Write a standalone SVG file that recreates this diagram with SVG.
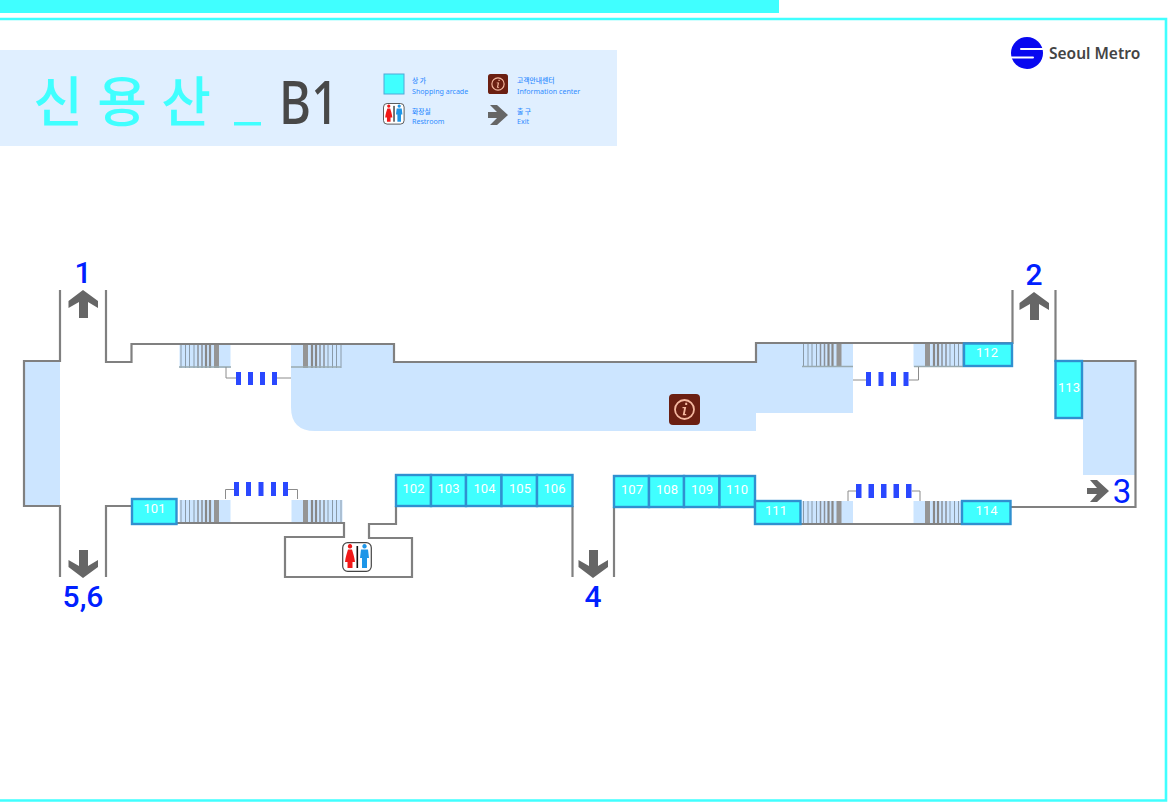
<svg xmlns="http://www.w3.org/2000/svg" width="1168" height="806" viewBox="0 0 1168 806">
<style>
.wall{fill:none;stroke:#808080;stroke-width:2.200}
.area{fill:#cce5ff}
.shop rect{fill:#40ffff;stroke:#3090d0;stroke-width:2.400}
.shop text{font:13px Roboto,"Liberation Sans",sans-serif;fill:#fff;text-anchor:middle}
.num{font:500 30px Roboto,"Liberation Sans",sans-serif;fill:#0020ff;text-anchor:middle}
.arrow{fill:#666}
.bar{fill:#2a48ff}
.link{fill:none;stroke:#8c8c8c;stroke-width:1}
.ttl{font:500 54px "Noto Sans CJK KR",sans-serif;fill:#40ffff;text-anchor:middle}
.leg{font:500 6.800px "Noto Sans CJK KR","Noto Sans",sans-serif;fill:#2f8cff}
.legen{font:7.100px "Noto Sans","Noto Sans CJK KR",sans-serif;fill:#2f8cff}
</style>
<defs>
<g id="stair">
<path d="M0 0H51V23H0z" fill="#cce5ff"/>
<path d="M1.500 0V23M6 0V23M10 0V23M14.500 0V23" stroke="#8a9aa8" stroke-width="1" fill="none"/>
<path d="M18.500 0V23M22.500 0V23" stroke="#8a9098" stroke-width="1.500" fill="none"/>
<path d="M26.500 0V23M30.500 0V23" stroke="#888" stroke-width="2.200" fill="none"/>
<rect x="34.500" y="0" width="5" height="23" fill="#959595"/>
</g>
<path id="up" d="M0 0L15 11V18L5 12V28H-4V12L-14.500 18V11Z"/>
<g id="wc">
<rect x="0.700" y="0.700" width="28.600" height="28.600" rx="5" fill="#fff" stroke="#444" stroke-width="1.200"/>
<path d="M8 6.500a2.200 2.200 0 1 1 .01 0ZM6 7.500H10C11 11 12.500 15 13 20H10.500V26H5.500V20H3C3.500 15 5 11 6 7.500Z" fill="#f01818"/>
<rect x="14.500" y="4" width="1.600" height="22" fill="#111"/>
<path d="M22.500 6.500a2.200 2.200 0 1 1 .01 0ZM19 7.500H26L27 16H25V26H20V16H18Z" fill="#1e96e8"/>
</g>
<g id="info">
<rect width="31" height="31" rx="4" fill="#6b1f12"/>
<circle cx="15.500" cy="15.500" r="9.500" fill="none" stroke="#f5b8a0" stroke-width="1.800"/>
<path d="M16.200 8.800h2v2.200h-2zM13.500 13h3.700l-1.400 7h1.400v1.200h-3.500l1.400-7h-1.600z" fill="#f5b8a0"/>
</g>
</defs>

<g id="frame">
<rect x="0" y="0" width="779" height="13" fill="#40ffff"/>
<path d="M0 19H1166V800.500H0" fill="none" stroke="#40ffff" stroke-width="2.600"/>
</g>

<g id="title">
<rect x="0" y="50" width="617" height="96" fill="#e0efff"/>
<text x="58" y="122" class="ttl">신</text>
<text x="122" y="122" class="ttl">용</text>
<text x="186" y="122" class="ttl">산</text>
<rect x="234" y="122" width="27" height="3.500" fill="#40ffff"/>
<text x="279" y="124" font-family="Noto Sans,sans-serif" font-size="60" font-weight="500" fill="#484848" textLength="60" lengthAdjust="spacingAndGlyphs">B1</text>
</g>

<g id="legend">
<rect x="384" y="74" width="20" height="20" fill="#40ffff" stroke="#50a8d8" stroke-width="1"/>
<text x="412" y="83" class="leg">상 가</text>
<text x="412" y="94" class="legen">Shopping arcade</text>
<use href="#info" transform="translate(488 74) scale(.645)"/>
<text x="517" y="83" class="leg">고객안내센터</text>
<text x="517" y="94" class="legen">Information center</text>
<use href="#wc" transform="translate(383 103) scale(.72)"/>
<text x="412" y="114" class="leg">화장실</text>
<text x="412" y="124" class="legen">Restroom</text>
<path class="arrow" d="M508 115L497 105H490L497 112H488V118H497L490 125H497Z"/>
<text x="517" y="114" class="leg">출 구</text>
<text x="517" y="124" class="legen">Exit</text>
</g>

<g id="logo">
<circle cx="1027" cy="53" r="16" fill="#0808f0"/>
<path d="M1021 49H1042.500M1011.500 57.500H1033" fill="none" stroke="#fff" stroke-width="2" stroke-linecap="round"/>
<text x="1049" y="59" font-family="Noto Sans,sans-serif" font-size="15.500" font-weight="600" fill="#444">Seoul Metro</text>
</g>

<g id="areas">
<path class="area" d="M25 362H60V505H25Z"/>
<path class="area" d="M291 345H393V363H756V344H853V413H756V431H315Q291 431 291 407Z"/>
<path class="area" d="M1083 362H1135V475H1083Z"/>
</g>

<g id="stairs">
<use href="#stair" transform="translate(179.500 345)"/>
<use href="#stair" transform="translate(342.500 345) scale(-1 1)"/>
<use href="#stair" transform="translate(802 344)"/>
<use href="#stair" transform="translate(964.500 344) scale(-1 1)"/>
<use href="#stair" transform="translate(179.500 500)"/>
<use href="#stair" transform="translate(342.500 500) scale(-1 1)"/>
<use href="#stair" transform="translate(802 501)"/>
<use href="#stair" transform="translate(964.500 501) scale(-1 1)"/>
<path d="M179 367H231M291 367H341M802 366.500H853M914 366.500H963" stroke="#99aab0" stroke-width="1.500" fill="none"/>
</g>

<g id="walls">
<path class="wall" d="M60 290V361H24V506H60V577"/>
<path class="wall" d="M106 290V362H131.500V344H394V362H756V343H1012.500V290"/>
<path class="wall" d="M1055.500 290V361H1135.500V507H1011"/>
<path class="wall" d="M106 577V506H131.500"/>
<path class="wall" d="M176 523H344V537H285V577H412V538H369V524H396V506"/>
<path class="wall" d="M572.500 506V577"/>
<path class="wall" d="M614 507V577"/>
<path class="wall" d="M801 524H962"/>
</g>

<g id="gates">
<path class="link" d="M226 367V378H236M276 378H291"/>
<path class="bar" d="M236 372h5v13h-5zM248 372h5v13h-5zM260 372h5v13h-5zM272 372h5v13h-5z"/>
<path class="link" d="M225.500 499V489.500H234M288 489.500H297.500V499"/>
<path class="bar" d="M234 482h5v14h-5zM246 482h5v14h-5zM258.500 482h5v14h-5zM271 482h5v14h-5zM283 482h5v14h-5z"/>
<path class="link" d="M853 380H866M909 380H918.500V367"/>
<path class="bar" d="M866 372h5v14h-5zM878.500 372h5v14h-5zM891 372h5v14h-5zM903.500 372h5v14h-5z"/>
<path class="link" d="M848 501V491H856M912 491H920V501"/>
<path class="bar" d="M856 484h5.500v14h-5.500zM868.500 484h5.500v14h-5.500zM881 484h5.500v14h-5.500zM893.500 484h5.500v14h-5.500zM906 484h5.500v14h-5.500z"/>
</g>

<g id="shops" class="shop">
<g id="s101"><rect x="132" y="499" width="44.500" height="25"/><text x="154.500" y="513">101</text></g>
<g id="s102"><rect x="396" y="475" width="35" height="31"/><text x="413.500" y="493">102</text></g>
<g id="s103"><rect x="431" y="475" width="35" height="31"/><text x="448.500" y="493">103</text></g>
<g id="s104"><rect x="466" y="475" width="35.500" height="31"/><text x="484.500" y="493">104</text></g>
<g id="s105"><rect x="501.500" y="475" width="35.500" height="31"/><text x="520" y="493">105</text></g>
<g id="s106"><rect x="537" y="475" width="35.500" height="31"/><text x="554.500" y="493">106</text></g>
<g id="s107"><rect x="614" y="476" width="35" height="31"/><text x="632" y="494">107</text></g>
<g id="s108"><rect x="649" y="476" width="35" height="31"/><text x="667" y="494">108</text></g>
<g id="s109"><rect x="684" y="476" width="35.500" height="31"/><text x="702" y="494">109</text></g>
<g id="s110"><rect x="719.500" y="476" width="35.500" height="31"/><text x="737" y="494">110</text></g>
<g id="s111"><rect x="755" y="501" width="45.500" height="23"/><text x="776" y="515">111</text></g>
<g id="s112"><rect x="964" y="343.500" width="48" height="22.500"/><text x="987" y="357">112</text></g>
<g id="s113"><rect x="1055.500" y="361" width="26.500" height="57"/><text x="1069" y="392">113</text></g>
<g id="s114"><rect x="962" y="501" width="48.500" height="23"/><text x="986.500" y="515">114</text></g>
</g>

<g id="facilities">
<use id="info-center" href="#info" transform="translate(669 394)"/>
<use id="restroom" href="#wc" transform="translate(342 542)"/>
</g>

<g id="exits">
<g id="exit1"><use class="arrow" href="#up" transform="translate(83 290)"/><text class="num" x="83" y="283">1</text></g>
<g id="exit2"><use class="arrow" href="#up" transform="translate(1034 292)"/><text class="num" x="1034" y="285">2</text></g>
<g id="exit3"><path class="arrow" d="M1109 491L1097 480H1090L1097 488H1087V494H1097L1090 502H1097Z"/><text class="num" x="1122" y="503" style="font-weight:400;font-size:33px">3</text></g>
<g id="exit4"><use class="arrow" href="#up" transform="translate(593 578) scale(1 -1)"/><text class="num" x="593" y="607">4</text></g>
<g id="exit56"><use class="arrow" href="#up" transform="translate(83 578) scale(1 -1)"/><text class="num" x="83" y="607">5,6</text></g>
</g>
</svg>
